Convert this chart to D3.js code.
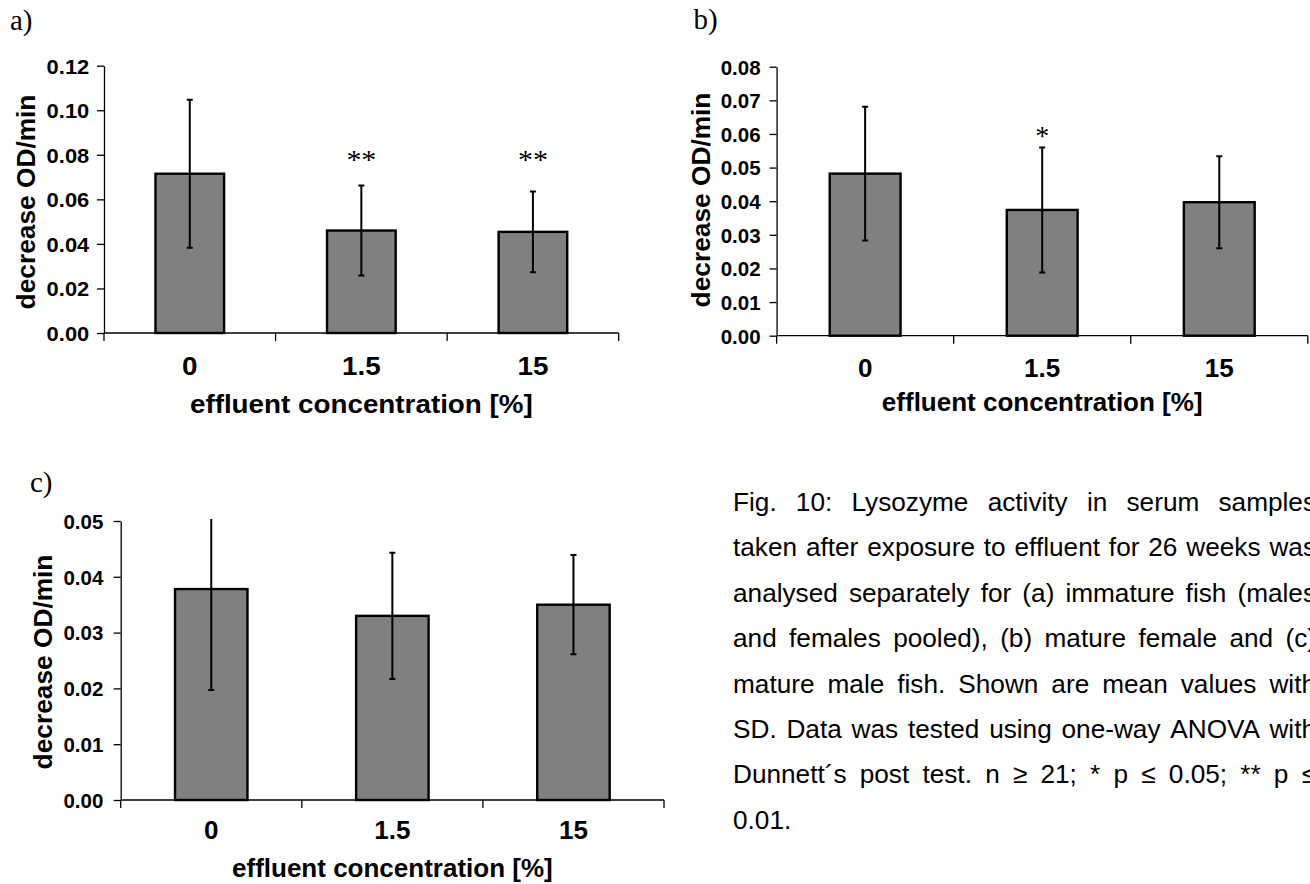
<!DOCTYPE html>
<html><head><meta charset="utf-8">
<script src="https://cdn.jsdelivr.net/npm/d3@7"></script>
<style>body{margin:0;background:#fff}svg{display:block;background:#fff}</style>
</head><body><svg id="chart" width="1310" height="884"></svg>
<script>
// ---------------- data ----------------
const categories = ["0", "1.5", "15"];
const meanA = [0.0715, 0.0460, 0.0454];
const sdA   = [0.0332, 0.0202, 0.0181];
const sigA  = ["", "**", "**"];
const meanB = [0.0482, 0.0374, 0.0397];
const sdB   = [0.0199, 0.0186, 0.0137];
const sigB  = ["", "*", ""];
const meanC = [0.0378, 0.0330, 0.0350];
const sdC   = [0.0181, 0.0113, 0.0089];
const sigC  = ["", "", ""];
const ticksA = [0, 0.02, 0.04, 0.06, 0.08, 0.10, 0.12];
const ticksB = [0, 0.01, 0.02, 0.03, 0.04, 0.05, 0.06, 0.07, 0.08];
const ticksC = [0, 0.01, 0.02, 0.03, 0.04, 0.05];
const yTitle = "decrease OD/min";
const xTitle = "effluent concentration [%]";
const panelLetters = ["a)", "b)", "c)"];
const captionLines = [
  "Fig. 10: Lysozyme activity in serum samples",
  "taken after exposure to effluent for 26 weeks was",
  "analysed separately for (a) immature fish (males",
  "and females pooled), (b) mature female and (c)",
  "mature male fish. Shown are mean values with",
  "SD. Data was tested using one-way ANOVA with",
  "Dunnett\u00b4s post test. n \u2265 21; * p \u2264 0.05; ** p \u2264",
  "0.01."
];

// ---------------- layout ----------------
const sans = "Arial, 'Liberation Sans', Helvetica, sans-serif";
const serif = "'Times New Roman', 'Liberation Serif', serif";
const svg = d3.select("#chart");

const panels = [
  {mean: meanA, sd: sdA, sig: sigA, ticks: ticksA, letter: panelLetters[0],
   left: 104, right: 618.7, top: 65.7, bottom: 333, sx: 1.07, gap: 14.7,
   yTitleX: 35, yTitleY: 202, xLabelY: 375, xTitleY: 413,
   letterX: 10, letterY: 30, sigLevel: 0.080, sigFS: 28},
  {mean: meanB, sd: sdB, sig: sigB, ticks: ticksB, letter: panelLetters[1],
   left: 776.6, right: 1307.8, top: 66.7, bottom: 335.7, sx: 1.0, gap: 16,
   yTitleX: 710, yTitleY: 200, xLabelY: 377, xTitleY: 411,
   letterX: 693.5, letterY: 29, sigLevel: 0.0607, sigFS: 28},
  {mean: meanC, sd: sdC, sig: sigC, ticks: ticksC, letter: panelLetters[2],
   left: 120.7, right: 664, top: 521, bottom: 800, sx: 1.0, gap: 17.4,
   yTitleX: 51.7, yTitleY: 662, xLabelY: 839, xTitleY: 877,
   letterX: 30, letterY: 492, sigLevel: 0.06, sigFS: 28}
];

const tickFS = 20.5, xLabelFS = 26, xTitleFS = 26, yTitleFS = 26.3;

panels.forEach((p, pi) => {
  const g = svg.append("g");
  const yMax = d3.max(p.ticks);
  const y = d3.scaleLinear().domain([0, yMax]).range([p.bottom, p.top]);
  const x = d3.scaleBand().domain(categories).range([p.left, p.right])
              .paddingInner(0.6).paddingOuter(0.3);
  const step = x.step();

  // panel letter
  g.append("text").attr("x", p.letterX).attr("y", p.letterY)
    .attr("font-family", serif).attr("font-size", 29).text(p.letter);

  // bars
  g.selectAll("rect.bar").data(categories).join("rect")
    .attr("x", d => x(d)).attr("width", x.bandwidth())
    .attr("y", (d, i) => y(p.mean[i])).attr("height", (d, i) => y(0) - y(p.mean[i]))
    .attr("fill", "#808080").attr("stroke", "#000").attr("stroke-width", 2.4);

  // error bars (clipped to plot area)
  const clipId = "clip" + pi;
  svg.append("clipPath").attr("id", clipId).append("rect")
    .attr("x", p.left).attr("y", p.top - 2).attr("width", p.right - p.left)
    .attr("height", p.bottom - p.top + 2);
  const eg = g.append("g").attr("clip-path", `url(#${clipId})`)
    .attr("stroke", "#000").attr("stroke-width", 2);
  categories.forEach((c, i) => {
    const cx = x(c) + x.bandwidth() / 2;
    const hi = p.mean[i] + p.sd[i], lo = p.mean[i] - p.sd[i];
    eg.append("line").attr("x1", cx).attr("x2", cx).attr("y1", y(hi)).attr("y2", y(lo));
    [hi, lo].forEach(v => {
      eg.append("line").attr("x1", cx - 3).attr("x2", cx + 3).attr("y1", y(v)).attr("y2", y(v));
    });
  });

  // significance marks
  categories.forEach((c, i) => {
    if (!p.sig[i]) return;
    const cx = x(c) + x.bandwidth() / 2;
    g.append("g").attr("transform", `translate(${cx},${y(p.sigLevel) + 0.49 * p.sigFS}) scale(${p.sx},1)`)
      .append("text").attr("text-anchor", "middle").attr("font-family", serif)
      .attr("font-size", p.sigFS).text(p.sig[i]);
  });

  // y axis
  const ya = g.append("g").attr("transform", `translate(${p.left},0)`)
    .call(d3.axisLeft(y).tickValues(p.ticks).tickFormat(d3.format(".2f"))
      .tickSize(7).tickSizeOuter(0));
  ya.select(".domain").attr("stroke", "#000").attr("stroke-width", 1.3);
  ya.selectAll(".tick line").attr("stroke", "#000").attr("stroke-width", 1.3);
  ya.selectAll(".tick text")
    .attr("font-family", sans).attr("font-size", tickFS).attr("font-weight", "bold")
    .attr("fill", "#000").attr("x", -p.gap / p.sx).attr("dy", "0.36em")
    .attr("transform", `scale(${p.sx},1)`);

  // x axis line and category boundary ticks
  g.append("line").attr("x1", p.left).attr("x2", p.right)
    .attr("y1", y(0)).attr("y2", y(0)).attr("stroke", "#000").attr("stroke-width", 1.3);
  d3.range(categories.length + 1).forEach(k => {
    const tx = p.left + k * step;
    g.append("line").attr("x1", tx).attr("x2", tx).attr("y1", y(0)).attr("y2", y(0) + 8)
      .attr("stroke", "#000").attr("stroke-width", 1.3);
  });

  // x tick labels
  categories.forEach(c => {
    g.append("g").attr("transform", `translate(${x(c) + x.bandwidth() / 2},${p.xLabelY}) scale(${p.sx},1)`)
      .append("text").attr("text-anchor", "middle").attr("font-family", sans)
      .attr("font-size", xLabelFS).attr("font-weight", "bold").text(c);
  });

  // x title
  g.append("g").attr("transform", `translate(${(p.left + p.right) / 2},${p.xTitleY}) scale(${p.sx},1)`)
    .append("text").attr("text-anchor", "middle").attr("font-family", sans)
    .attr("font-size", xTitleFS).attr("font-weight", "bold").text(xTitle);

  // y title
  g.append("text").attr("transform", `translate(${p.yTitleX},${p.yTitleY}) rotate(-90)`)
    .attr("text-anchor", "middle").attr("font-family", sans)
    .attr("font-size", yTitleFS).attr("font-weight", "bold").text(yTitle);
});

// ---------------- caption (justified) ----------------
const capLeft = 733, capRight = 1316, capTop = 511, capLH = 45.4, capFS = 26.2;
const capG = svg.append("g").attr("font-family", sans).attr("font-size", capFS).attr("fill", "#000");
captionLines.forEach((line, i) => {
  const words = line.split(" ");
  const t = capG.append("text").attr("y", capTop + i * capLH);
  const spans = words.map(w => t.append("tspan").text(w));
  const widths = spans.map(s => s.node().getComputedTextLength());
  const total = d3.sum(widths);
  const justify = i < captionLines.length - 1 && words.length > 1;
  const gap = justify ? (capRight - capLeft - total) / (words.length - 1) : capFS * 0.278;
  let cx = capLeft;
  spans.forEach((s, j) => { s.attr("x", cx); cx += widths[j] + gap; });
});
</script>
</body></html>
